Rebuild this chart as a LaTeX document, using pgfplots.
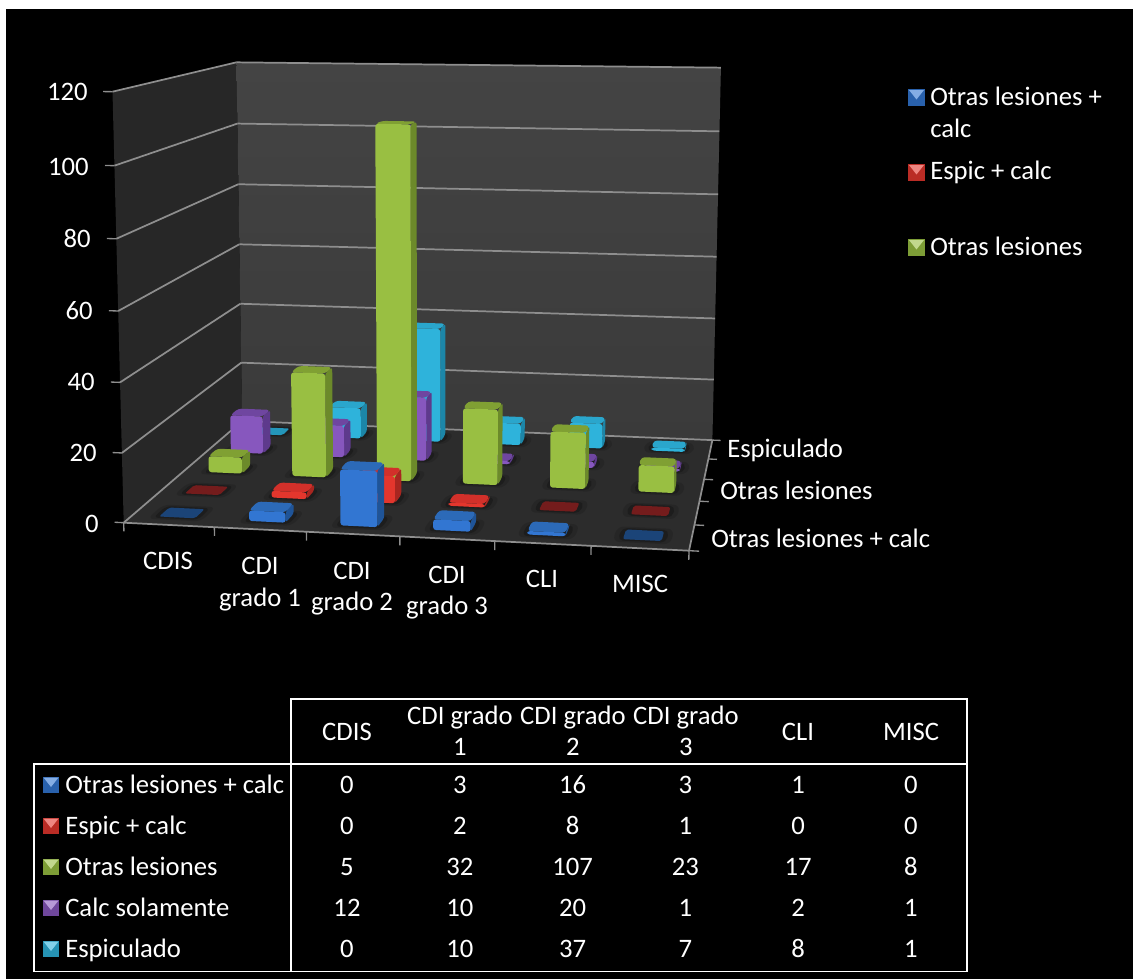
\documentclass[border=0pt]{standalone}
\usepackage{pgfplots}
\usepackage{pgfplotstable}
\usepackage{fontspec}
\setmainfont{Carlito}
\pgfplotsset{compat=1.18}

% Counts per category (rows) and lesion type (columns)
\pgfplotstableread{
cat s0 s1 s2 s3 s4
0   0  0  5   12 0
1   3  2  32  10 10
2   16 8  107 20 37
3   3  1  23  1  7
4   1  0  17  2  8
5   0  0  8   1  1
}\barData

% Unit outlines, drawn through the perspective functions of the axis
\pgfplotstableread{
s t h
0 -1 0
1 -1 0
1 -1 1
-1 -1 1
-1 -1 0
0 -1 0
}\faceFront
\pgfplotstableread{
s t h
1 0 0
1 1 0
1 1 1
1 -1 1
1 -1 0
1 0 0
}\faceSide
\pgfplotstableread{
s t h
0 -1 1
1 -1 1
1 1 1
-1 1 1
-1 -1 1
0 -1 1
}\faceTop
\pgfplotstableread{
p q
0 0
1 0
1 1
0 1
0 0
}\unitSquare
\pgfplotstableread{
t u
0 0
1 1
}\unitSeg

% Series colours: f front, s side, t top, z plate for a zero value
\definecolor{s0f}{HTML}{3276D2}\definecolor{s0s}{HTML}{1F5498}\definecolor{s0t}{HTML}{2C6AB8}\definecolor{s0z}{HTML}{1B4478}
\definecolor{s1f}{HTML}{E3362D}\definecolor{s1s}{HTML}{A82620}\definecolor{s1t}{HTML}{D2302A}\definecolor{s1z}{HTML}{741C1C}
\definecolor{s2f}{HTML}{99BF42}\definecolor{s2s}{HTML}{6C8A2A}\definecolor{s2t}{HTML}{80A033}\definecolor{s2z}{HTML}{5A7226}
\definecolor{s3f}{HTML}{8757BE}\definecolor{s3s}{HTML}{5E3A8C}\definecolor{s3t}{HTML}{6F46A0}\definecolor{s3z}{HTML}{4A2E70}
\definecolor{s4f}{HTML}{2EB3DB}\definecolor{s4s}{HTML}{1C86A8}\definecolor{s4t}{HTML}{2AA6CC}\definecolor{s4z}{HTML}{2496BA}
\definecolor{wallL}{HTML}{272727}\definecolor{wallB}{HTML}{444444}\definecolor{wallBd}{HTML}{3A3A3A}\definecolor{floorC}{HTML}{2C2C2C}\definecolor{gridC}{HTML}{8E8E8E}

\newcommand{\hw}{0.2}
\newcommand{\hd}{0.19}

% Plot a table through the projection; #2 #3 #4 are the normalised x, depth and height
\newcommand{\proj}[5]{%
  \addplot[#5] table[
    x expr={px(#2,#3,#4)},
    y expr={py(#2,#3,#4)}]{#1};}

% One bar: category #1, series #2, value #3
\newcommand{\drawbar}[3]{%
  \proj{\faceTop}{(#1+.5+1.5*\hw*\thisrow{s})/6}{(#2+.5+1.6*\hd*\thisrow{t})/5}{0}{draw=none,fill=black,fill opacity=.12,rounded corners=5pt}
  \proj{\faceTop}{(#1+.5+1.25*\hw*\thisrow{s})/6}{(#2+.5+1.3*\hd*\thisrow{t})/5}{0}{draw=none,fill=black,fill opacity=.22,rounded corners=4pt}
  \ifdim #3pt=0pt
    \proj{\faceTop}{(#1+.5+\hw*\thisrow{s})/6}{(#2+.5+\hd*\thisrow{t})/5}{0}{draw=none,fill=s#2z,rounded corners=1.5pt}
  \else
    \proj{\faceSide}{(#1+.5+\hw*\thisrow{s})/6}{(#2+.5+\hd*\thisrow{t})/5}{\thisrow{h}*#3/120}{draw=none,fill=s#2s,rounded corners=2pt}
    \proj{\faceTop}{(#1+.5+\hw*\thisrow{s})/6}{(#2+.5+\hd*\thisrow{t})/5}{#3/120}{draw=none,fill=s#2t,rounded corners=2.5pt}
    \proj{\faceFront}{(#1+.5+\hw*\thisrow{s})/6}{(#2+.5+\hd*\thisrow{t})/5}{\thisrow{h}*#3/120}{draw=none,fill=s#2f,rounded corners=2pt}
  \fi}

\newcommand{\gridat}[1]{%
  \proj{\unitSeg}{\thisrow{t}}{1}{#1/6}{gridC,line width=1.3pt}
  \proj{\unitSeg}{0}{\thisrow{t}}{#1/6}{gridC,line width=1.3pt}
  \proj{\unitSeg}{-0.017*\thisrow{t}}{0}{#1/6}{gridC,line width=1pt}}

% Legend key with a bevelled look; centre #1,#2
\newcommand{\swatch}[3]{%
  \fill[#3!82!black] (axis cs:#1-8.3,#2-8.3) rectangle (axis cs:#1+8.3,#2+8.3);
  \fill[#3!60!white] (axis cs:#1-7.5,#2-7.5) -- (axis cs:#1+7.5,#2-7.5) -- (axis cs:#1,#2+2) -- cycle;}

\newcommand{\lab}[4][center]{\node[anchor=#1,text=white,font=\fontsize{20}{23}\selectfont,inner sep=0pt,text height=13pt,text depth=0.5pt] at (axis cs:#2,#3) {#4};}

\begin{document}
\begin{tikzpicture}
\begin{axis}[
  scale only axis, width=849.75pt, height=734.25pt,
  xmin=0, xmax=1133, ymin=0, ymax=979, y dir=reverse,
  axis lines=none, no markers, clip=true,
  declare function={
    wp(\a,\b,\c)=1-0.045*\a+0.2045*\b-0.0347*\c;
    px(\a,\b,\c)=(123.7+534.3*\a+168.0*\b-15.1*\c)/wp(\a,\b,\c);
    py(\a,\b,\c)=(522.7+3.2*\a-15.6*\b-434.2*\c)/wp(\a,\b,\c);
  },
]
% page ground
\fill[white] (axis cs:0,0) rectangle (axis cs:1133,979);
\fill[black] (axis cs:6,9) rectangle (axis cs:1133,979);

% walls and floor
\proj{\unitSquare}{0}{\thisrow{p}}{\thisrow{q}}{draw=none,fill=wallL}
\proj{\unitSquare}{\thisrow{p}}{1}{\thisrow{q}}{draw=none,top color=wallB,bottom color=wallBd}
\proj{\unitSquare}{\thisrow{p}}{\thisrow{q}}{0}{draw=none,fill=floorC}

% grid on the walls
\pgfplotsforeachungrouped \k in {0,...,6}{\edef\tmp{\noexpand\gridat{\k}}\tmp}

% floor edges and ticks
\proj{\unitSeg}{\thisrow{t}}{0}{0}{gridC,line width=1.3pt}
\proj{\unitSeg}{1}{\thisrow{t}}{0}{gridC,line width=1.3pt}
\pgfplotsforeachungrouped \k in {0,...,6}{%
  \edef\tmp{\noexpand\proj{\noexpand\unitSeg}{\k/6}{0}{-0.021*\noexpand\thisrow{t}}{gridC,line width=1pt}}\tmp}
\pgfplotsforeachungrouped \k in {0,...,5}{%
  \edef\tmp{\noexpand\proj{\noexpand\unitSeg}{1+0.017*\noexpand\thisrow{t}}{\k/5}{0}{gridC,line width=1pt}}\tmp}

% bars, rear series first
\pgfplotsforeachungrouped \j in {4,3,2,1,0}{%
  \pgfplotsforeachungrouped \i in {0,...,5}{%
    \pgfplotstablegetelem{\i}{s\j}\of\barData
    \edef\tmp{\noexpand\drawbar{\i}{\j}{\pgfplotsretval}}\tmp
  }}

% value axis labels
\lab[east]{88}{92}{120}
\lab[east]{89}{167}{100}
\lab[east]{91}{239}{80}
\lab[east]{93}{311}{60}
\lab[east]{95}{382}{40}
\lab[east]{97}{453}{20}
\lab[east]{99}{524}{0}

% category labels
\lab{168}{561}{CDIS}
\lab{260}{566}{CDI}\lab{260}{598}{grado 1}
\lab{352}{571}{CDI}\lab{352}{602}{grado 2}
\lab{447}{575}{CDI}\lab{447}{606}{grado 3}
\lab{542}{579}{CLI}
\lab{640}{584}{MISC}

% depth labels
\lab[west]{727}{449}{Espiculado}
\lab[west]{720}{491}{Otras lesiones}
\lab[west]{711}{539}{Otras lesiones + calc}

% legend
\swatch{916.5}{97.5}{s0f}\lab[west]{930}{97}{Otras lesiones +}\lab[west]{930}{129}{calc}
\swatch{916.5}{172.5}{s1f}\lab[west]{930}{171}{Espic + calc}
\swatch{916.5}{247.5}{s2f}\lab[west]{930}{247}{Otras lesiones}

% data table
\draw[white,line width=1.2pt] (axis cs:291,764) -- (axis cs:291,699) -- (axis cs:967,699) -- (axis cs:967,971.5) -- (axis cs:34,971.5) -- (axis cs:34,764) -- (axis cs:967,764);
\draw[white,line width=1.2pt] (axis cs:291,764) -- (axis cs:291,971.5);
\lab{347}{732}{CDIS}
\lab{460}{716}{CDI grado}\lab{460}{747}{1}
\lab{573}{716}{CDI grado}\lab{573}{747}{2}
\lab{686}{716}{CDI grado}\lab{686}{747}{3}
\lab{798}{732}{CLI}
\lab{911}{732}{MISC}
\swatch{51}{785}{s0f}\lab[west]{65}{785}{Otras lesiones + calc}
\swatch{51}{826}{s1f}\lab[west]{65}{826}{Espic + calc}
\swatch{51}{867}{s2f}\lab[west]{65}{867}{Otras lesiones}
\swatch{51}{908}{s3f}\lab[west]{65}{908}{Calc solamente}
\swatch{51}{949}{s4f}\lab[west]{65}{949}{Espiculado}
\pgfplotsforeachungrouped \j in {0,...,4}{%
  \pgfplotsforeachungrouped \i in {0,...,5}{%
    \pgfplotstablegetelem{\i}{s\j}\of\barData
    \pgfmathsetmacro\cellx{347+112.8*\i}
    \pgfmathsetmacro\celly{785+41*\j}
    \edef\tmp{\noexpand\lab{\cellx}{\celly}{\pgfplotsretval}}\tmp
  }}
\end{axis}
\end{tikzpicture}
\end{document}
